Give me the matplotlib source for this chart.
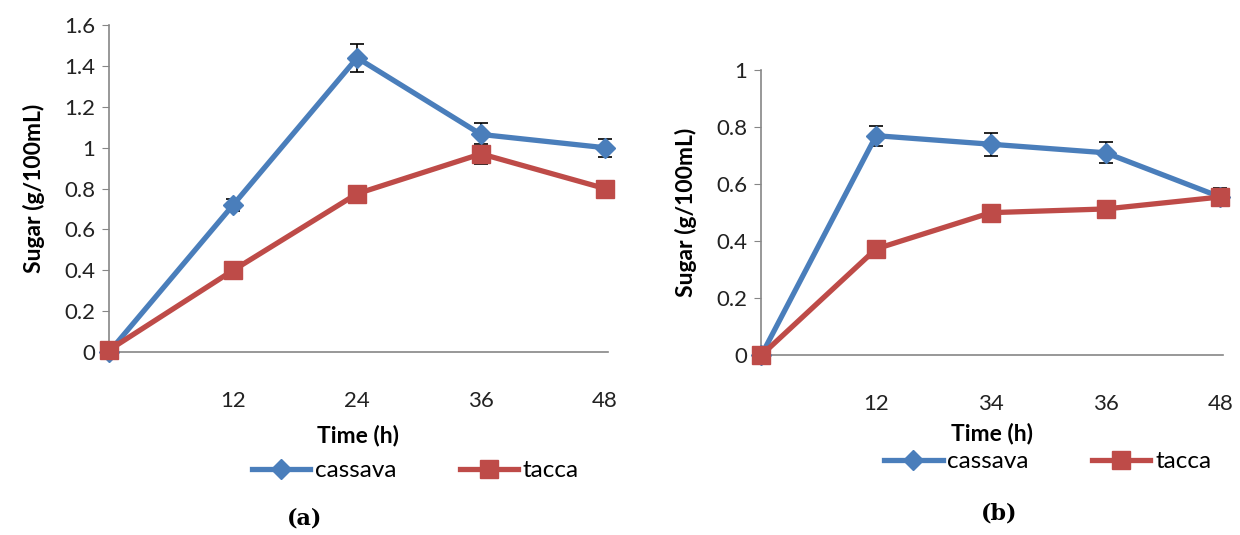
import matplotlib
matplotlib.use("Agg")
import matplotlib.pyplot as plt
import numpy as np

plt.rcParams['font.family'] = ['Lato', 'DejaVu Sans']

# Panel (a)
labels_a = ["", "12", "24", "36", "48"]
cassava_a = [0.0, 0.72, 1.44, 1.065, 1.0]
cassava_a_err = [0.0, 0.03, 0.07, 0.055, 0.045]
tacca_a = [0.01, 0.40, 0.775, 0.97, 0.80]
tacca_a_err = [0.0, 0.0, 0.0, 0.05, 0.0]

# Panel (b)
labels_b = ["", "12", "34", "36", "48"]
cassava_b = [0.0, 0.77, 0.74, 0.71, 0.555]
cassava_b_err = [0.0, 0.035, 0.04, 0.037, 0.03]
tacca_b = [0.0, 0.373, 0.50, 0.513, 0.555]
tacca_b_err = [0.0, 0.0, 0.0, 0.0, 0.0]

BLUE = "#4A7EBB"
RED = "#BE4B48"
GRAY = "#868686"

fig = plt.figure(figsize=(12.4, 5.35), dpi=100)


def draw(ax, labels, cas, cas_e, tac, tac_e, ymax, yticks, ytl):
    x = np.arange(len(labels))
    ax.plot(x, cas, color=BLUE, lw=3.8, marker='D', ms=10, label='cassava', zorder=3)
    ax.plot(x, tac, color=RED, lw=3.8, marker='s', ms=13, label='tacca', zorder=4)
    for vals, errs in ((cas, cas_e), (tac, tac_e)):
        idx = [i for i, e in enumerate(errs) if e > 0]
        if idx:
            ax.errorbar([x[i] for i in idx], [vals[i] for i in idx],
                        yerr=[errs[i] for i in idx], fmt='none', ecolor='black',
                        elinewidth=1.2, capsize=5, capthick=1.2, zorder=2)
    ax.set_xlim(0, len(labels) - 1 + 0.02)
    ax.set_ylim(0, ymax)
    ax.set_xticks(x)
    ax.set_xticklabels(labels, fontsize=16, color='#222222')
    ax.set_yticks(yticks)
    ax.set_yticklabels(ytl, fontsize=16, color='#222222')
    ax.tick_params(axis='x', length=0, pad=28)
    ax.tick_params(axis='y', length=5, color=GRAY, direction='out', pad=5)
    for s in ['top', 'right']:
        ax.spines[s].set_visible(False)
    for s in ['left', 'bottom']:
        ax.spines[s].set_color(GRAY)
        ax.spines[s].set_linewidth(1.2)
    ax.set_ylabel("Sugar (g/100mL)", fontsize=16.5, fontweight='bold', labelpad=14)
    for p in ax.get_children():
        try:
            p.set_clip_on(False)
        except Exception:
            pass


ax1 = fig.add_axes([0.088, 0.342, 0.402, 0.611])
draw(ax1, labels_a, cassava_a, cassava_a_err, tacca_a, tacca_a_err, 1.6,
     np.arange(0, 1.61, 0.2), ["0", "0.2", "0.4", "0.6", "0.8", "1", "1.2", "1.4", "1.6"])
ax1.set_xlabel("Time (h)", fontsize=16.5, fontweight='bold', labelpad=10)

ax2 = fig.add_axes([0.614, 0.336, 0.372, 0.533])
draw(ax2, labels_b, cassava_b, cassava_b_err, tacca_b, tacca_b_err, 1.0,
     np.arange(0, 1.01, 0.2), ["0", "0.2", "0.4", "0.6", "0.8", "1"])
ax2.set_xlabel("Time (h)", fontsize=16.5, fontweight='bold', labelpad=6)

h, l = ax1.get_legend_handles_labels()
fig.legend(h, l, loc='center', bbox_to_anchor=(0.335, 0.12), ncol=2, frameon=False,
           fontsize=17.5, handlelength=2.4, columnspacing=2.6, handletextpad=0.2)
fig.legend(h, l, loc='center', bbox_to_anchor=(0.845, 0.137), ncol=2, frameon=False,
           fontsize=17.5, handlelength=2.4, columnspacing=2.6, handletextpad=0.2)

fig.text(0.246, 0.03, "(a)", fontsize=16, fontweight='bold', family='DejaVu Serif',
         ha='center', va='center')
fig.text(0.806, 0.04, "(b)", fontsize=16, fontweight='bold', family='DejaVu Serif',
         ha='center', va='center')

fig.savefig("out.png", dpi=100)
